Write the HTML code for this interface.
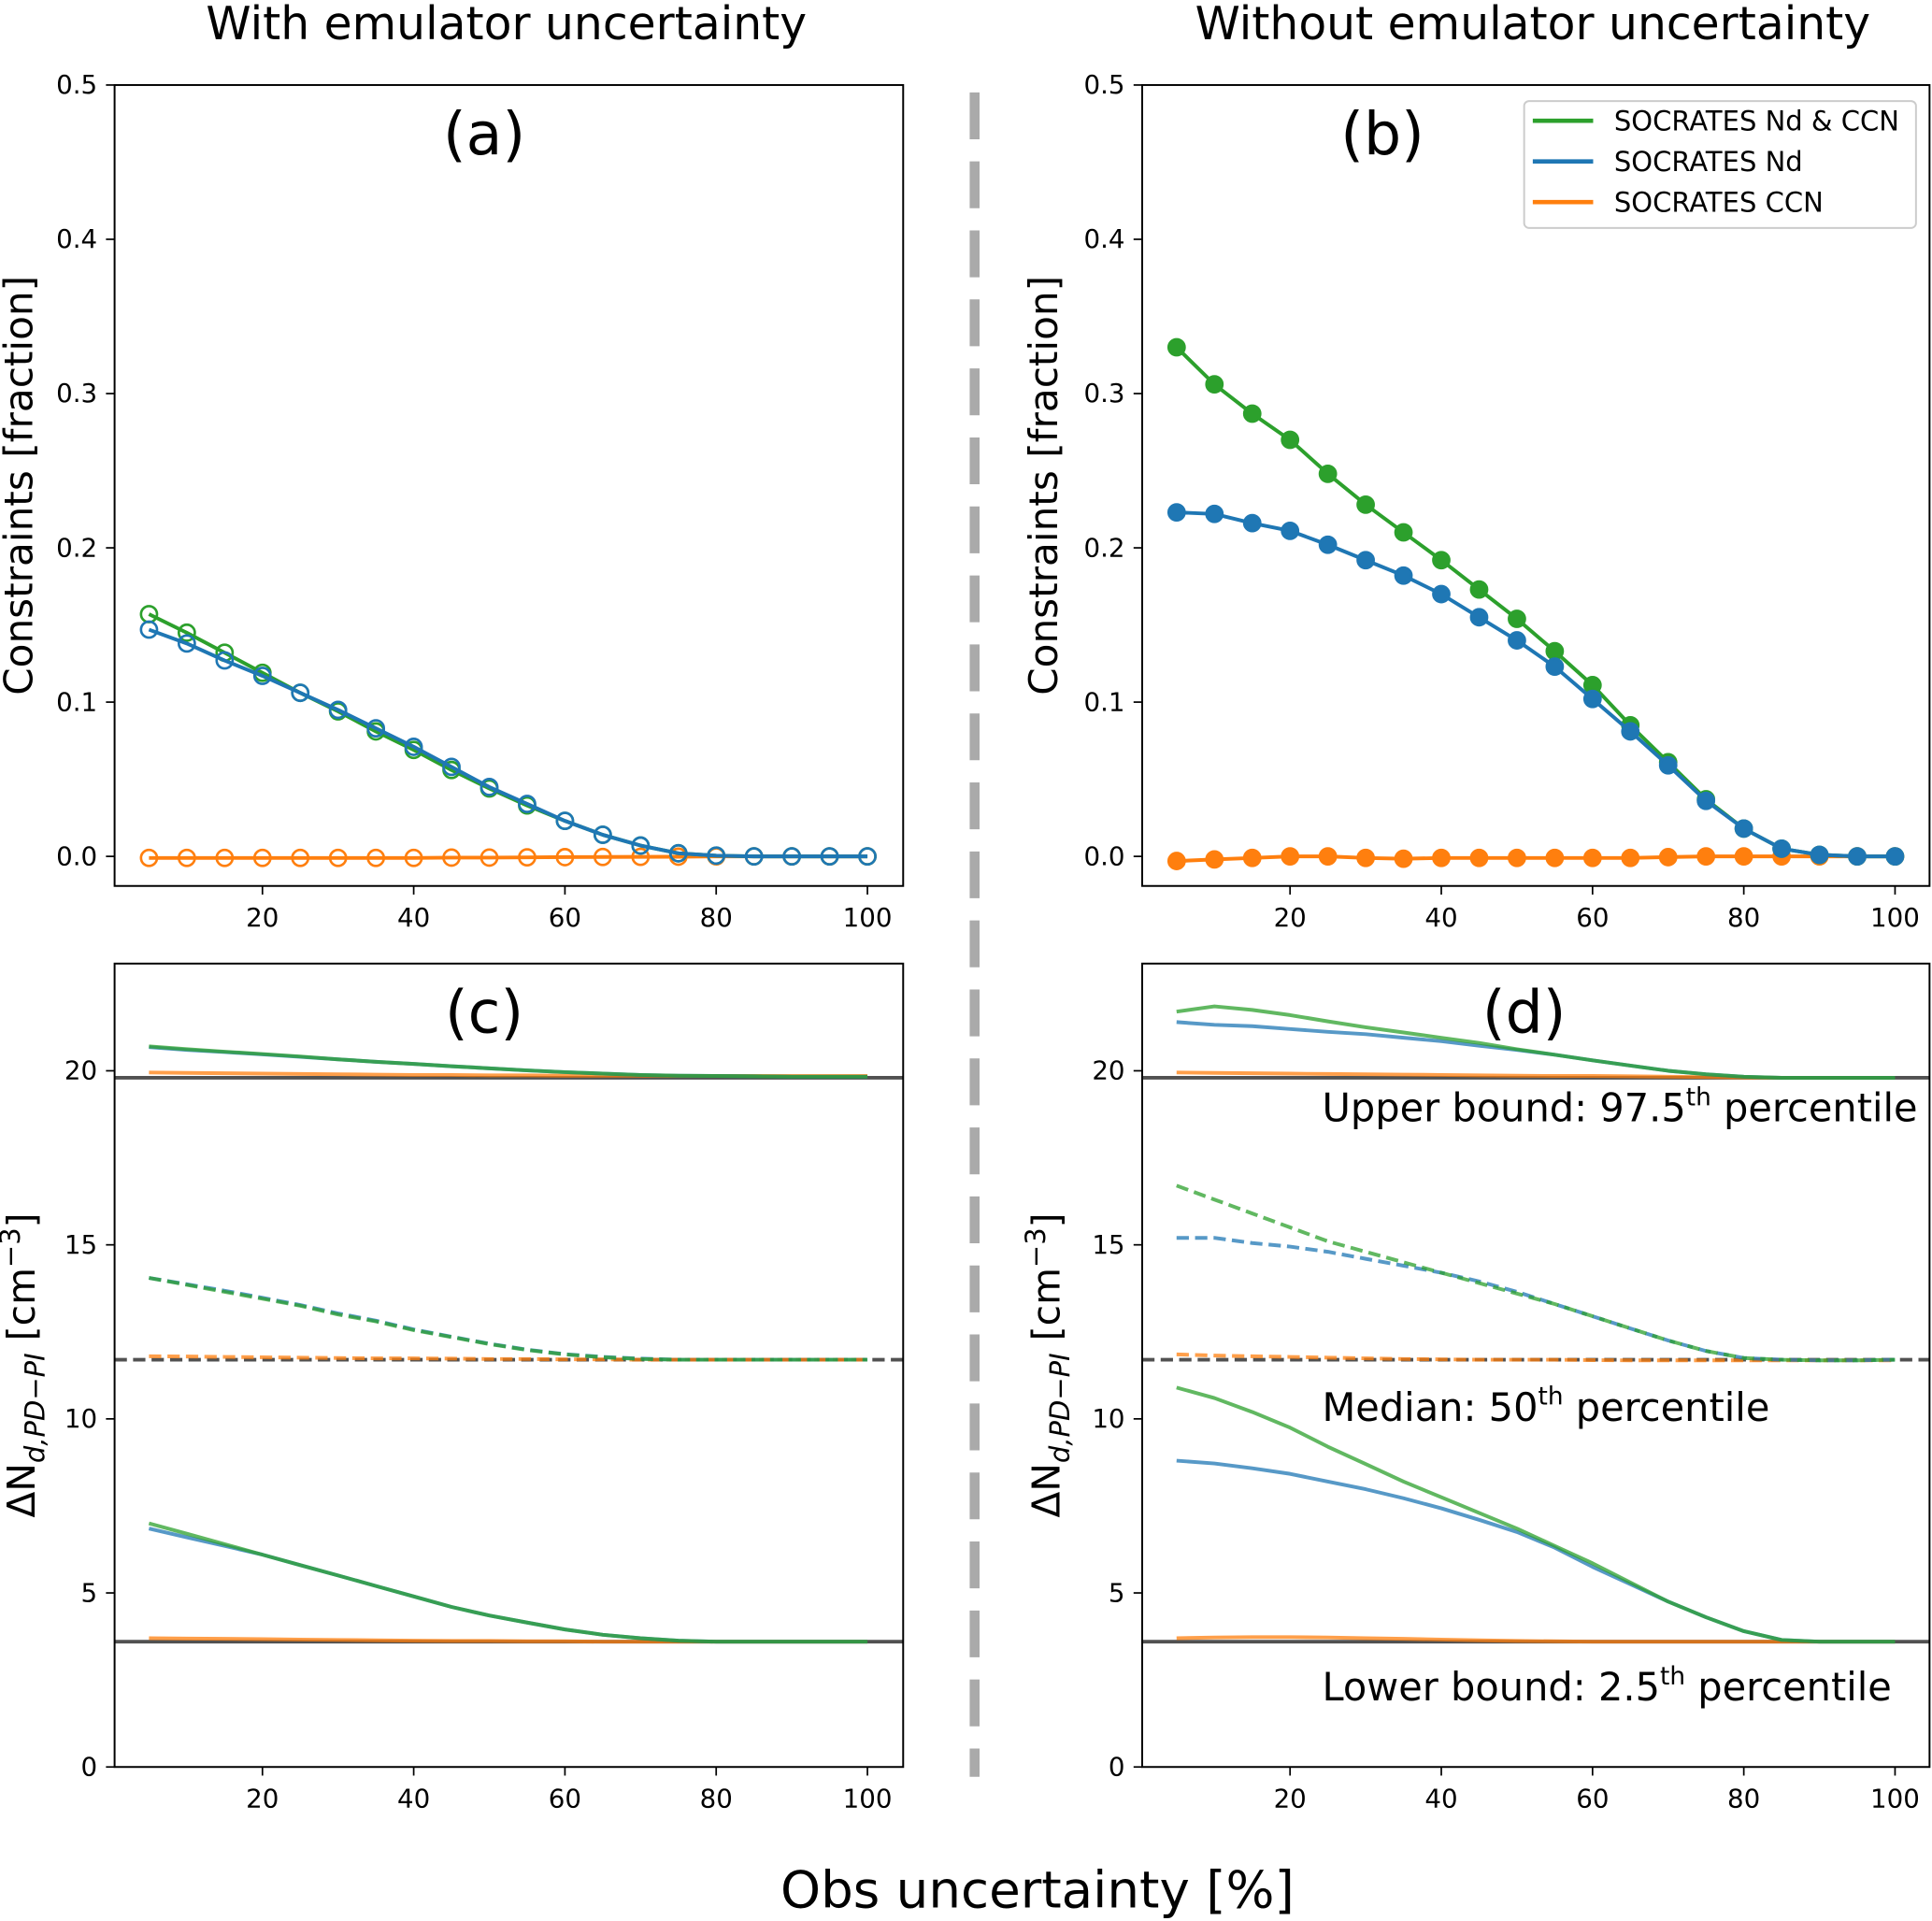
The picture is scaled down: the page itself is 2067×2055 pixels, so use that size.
<!DOCTYPE html>
<html><head><meta charset="utf-8"><style>
html,body{margin:0;padding:0;background:#fff}
svg{display:block}
text{font-family:"DejaVu Sans","Liberation Sans",sans-serif;fill:#000}
</style></head><body>
<svg id="fig" width="2067" height="2055" viewBox="0 0 1568 1559" preserveAspectRatio="none" xmlns="http://www.w3.org/2000/svg">
<text x="411" y="32" font-size="37" text-anchor="middle">With emulator uncertainty</text>
<text x="1244" y="32" font-size="37" text-anchor="middle">Without emulator uncertainty</text>
<line x1="791" y1="75" x2="791" y2="1442" stroke="#aaa" stroke-width="8" stroke-dasharray="38,18"/>
<text x="842" y="1548" font-size="41.5" text-anchor="middle">Obs uncertainty [%]</text>
<g id="plots"></g>
</svg>
<script>
const xs=[5,10,15,20,25,30,35,40,45,50,55,60,65,70,75,80,85,90,95,100];
const aGreen=[0.157,0.145,0.132,0.119,0.106,0.094,0.081,0.069,0.056,0.044,0.033,0.023,0.014,0.007,0.002,0.0005,0,0,0,0];
const aBlue=[0.147,0.138,0.127,0.117,0.106,0.095,0.083,0.071,0.058,0.045,0.034,0.023,0.014,0.007,0.002,0.0005,0,0,0,0];
const aOrange=[-0.001,-0.001,-0.001,-0.001,-0.001,-0.001,-0.001,-0.001,-0.0008,-0.0008,-0.0006,-0.0005,-0.0004,-0.0003,-0.0002,0,0,0,0,0];
const bGreen=[0.330,0.306,0.287,0.270,0.248,0.228,0.210,0.192,0.173,0.154,0.133,0.111,0.085,0.061,0.037,0.018,0.005,0.001,0,0];
const bBlue=[0.223,0.222,0.216,0.211,0.202,0.192,0.182,0.170,0.155,0.140,0.123,0.102,0.081,0.059,0.036,0.018,0.005,0.001,0,0];
const bOrange=[-0.003,-0.002,-0.001,0,0,-0.001,-0.0015,-0.001,-0.001,-0.001,-0.001,-0.001,-0.001,-0.0005,0,0,0,0,0,0];
const cGreenUp=[20.7,20.62,20.55,20.48,20.41,20.33,20.26,20.2,20.13,20.07,20.01,19.96,19.92,19.88,19.86,19.85,19.84,19.83,19.83,19.83];
const cBlueUp=[20.68,20.6,20.54,20.47,20.4,20.33,20.26,20.2,20.13,20.07,20.01,19.96,19.92,19.88,19.86,19.85,19.84,19.83,19.83,19.83];
const cOrangeUp=[19.95,19.94,19.93,19.92,19.91,19.9,19.89,19.88,19.88,19.87,19.87,19.86,19.86,19.86,19.85,19.85,19.85,19.85,19.85,19.85];
const cGreenMed=[14.05,13.85,13.65,13.45,13.25,13.0,12.8,12.55,12.35,12.15,11.98,11.85,11.77,11.72,11.7,11.7,11.7,11.7,11.7,11.7];
const cBlueMed=[14.05,13.87,13.68,13.48,13.27,13.03,12.82,12.57,12.36,12.16,11.99,11.86,11.78,11.73,11.7,11.7,11.7,11.7,11.7,11.7];
const cOrangeMed=[11.8,11.79,11.78,11.77,11.76,11.75,11.74,11.74,11.73,11.72,11.72,11.71,11.71,11.7,11.7,11.7,11.7,11.7,11.7,11.7];
const cGreenLow=[7.0,6.7,6.4,6.1,5.8,5.5,5.2,4.9,4.6,4.35,4.15,3.95,3.8,3.7,3.63,3.6,3.6,3.6,3.6,3.6];
const cBlueLow=[6.85,6.6,6.35,6.1,5.8,5.5,5.2,4.9,4.6,4.35,4.15,3.95,3.8,3.7,3.63,3.6,3.6,3.6,3.6,3.6];
const cOrangeLow=[3.7,3.69,3.68,3.67,3.66,3.65,3.64,3.63,3.62,3.62,3.61,3.61,3.6,3.6,3.6,3.6,3.6,3.6,3.6,3.6];
const dGreenUp=[21.7,21.85,21.75,21.6,21.42,21.25,21.1,20.95,20.8,20.62,20.46,20.3,20.15,20.0,19.9,19.83,19.8,19.8,19.8,19.8];
const dBlueUp=[21.4,21.32,21.28,21.2,21.12,21.05,20.95,20.85,20.72,20.6,20.46,20.3,20.15,20.0,19.9,19.83,19.8,19.8,19.8,19.8];
const dOrangeUp=[19.95,19.94,19.93,19.92,19.91,19.9,19.89,19.88,19.87,19.86,19.85,19.85,19.84,19.83,19.82,19.81,19.8,19.8,19.8,19.8];
const dGreenMed=[16.7,16.3,15.9,15.5,15.1,14.8,14.5,14.2,13.9,13.6,13.3,12.95,12.6,12.25,11.95,11.75,11.7,11.68,11.68,11.7];
const dBlueMed=[15.2,15.2,15.05,14.95,14.8,14.6,14.4,14.2,13.95,13.65,13.3,12.95,12.6,12.25,11.95,11.75,11.7,11.68,11.68,11.7];
const dOrangeMed=[11.85,11.82,11.8,11.78,11.76,11.74,11.72,11.71,11.7,11.7,11.7,11.69,11.68,11.68,11.68,11.68,11.68,11.68,11.68,11.68];
const dGreenLow=[10.9,10.6,10.2,9.75,9.2,8.7,8.2,7.75,7.3,6.85,6.35,5.85,5.3,4.75,4.3,3.9,3.65,3.6,3.6,3.6];
const dBlueLow=[8.8,8.72,8.58,8.42,8.2,7.98,7.72,7.43,7.1,6.75,6.3,5.75,5.25,4.75,4.3,3.9,3.65,3.6,3.6,3.6];
const dOrangeLow=[3.7,3.72,3.73,3.73,3.72,3.7,3.68,3.66,3.64,3.62,3.61,3.6,3.6,3.6,3.6,3.6,3.6,3.6,3.6,3.6];
const refLines=[19.8,11.7,3.6];
const xTicks=[20,40,60,80,100];
const yTicksTop=[0.0,0.1,0.2,0.3,0.4,0.5];
const yTicksBot=[0,5,10,15,20];

const NS="http://www.w3.org/2000/svg";
const G=document.getElementById('plots');
const C={g:'#2ca02c',b:'#1f77b4',o:'#ff7f0e'};
function el(t,a,p){const e=document.createElementNS(NS,t);for(const k in a)e.setAttribute(k,a[k]);(p||G).appendChild(e);return e;}

function panel(name,L,T,R,B,ymin,ymax,yt,fmt){
  const sx=v=>(L+120)+(v-20)*6.1375;
  const y=v=>B-(v-ymin)/(ymax-ymin)*(B-T);
  const g=el('g',{});
  
  
  for(const t of xTicks){
    const l=el('line',{x1:sx(t),x2:sx(t),y1:B,y2:B+7,stroke:'#000','stroke-width':1.3},g);
    
    const tx=el('text',{x:sx(t),y:B+33,'font-size':21,'text-anchor':'middle'},g);tx.textContent=t;
    
  }
  for(const t of yt){
    const l=el('line',{x1:L-7,x2:L,y1:y(t),y2:y(t),stroke:'#000','stroke-width':1.3},g);
    
    const tx=el('text',{x:L-14,y:y(t)+7,'font-size':21,'text-anchor':'end'},g);tx.textContent=fmt(t);
    
  }
  return {g,sx,y,L,T,R,B};
}
function frame(p){
  const r=el('rect',{x:p.L,y:p.T,width:p.R-p.L,height:p.B-p.T,fill:'none',stroke:'#000','stroke-width':1.5},p.g);
  
}
function line(p,vals,color,name,opts){
  opts=opts||{};
  const pts=xs.map((v,i)=>p.sx(v).toFixed(1)+','+p.y(vals[i]).toFixed(1)).join(' ');
  const l=el('polyline',{points:pts,fill:'none',stroke:color,'stroke-width':opts.w||3,'stroke-opacity':opts.op||1,'stroke-dasharray':opts.dash||'none','stroke-linejoin':'round'},p.g);
  
  if(opts.marker){
    xs.forEach((v,i)=>{
      const c=el('circle',{cx:p.sx(v),cy:p.y(vals[i]),r:6.5,fill:opts.marker==='filled'?color:'none',stroke:color,'stroke-width':2},p.g);
      
    });
  }
}
function refs(p){
  refLines.forEach((v,i)=>{
    const l=el('line',{x1:p.L,x2:p.R,y1:p.y(v),y2:p.y(v),stroke:'#333','stroke-width':3,'stroke-opacity':0.85,'stroke-dasharray':i===1?'10,5':'none'},p.g);
    
    
  });
}
function label(p,txt,cx,name){
  const t=el('text',{x:cx,y:p.T+56,'font-size':48,'text-anchor':'middle'},p.g);t.textContent=txt;
  
}
function ylabTop(p,x){
  const t=el('text',{x:0,y:0,'font-size':32,'text-anchor':'middle',transform:`translate(${x},${(p.T+p.B)/2}) rotate(-90)`},p.g);
  t.textContent='Constraints [fraction]';
  
}
function ylabBot(p,x){
  const t=el('text',{x:0,y:0,'font-size':31,'text-anchor':'middle',transform:`translate(${x},${(p.T+p.B)/2}) rotate(-90)`},p.g);
  
  t.innerHTML='ΔN<tspan font-size="22" font-style="italic" dy="8">d,PD−PI</tspan><tspan dy="-8"> [cm</tspan><tspan font-size="22" dy="-12">−3</tspan><tspan dy="12">]</tspan>';
}
const f1=v=>v.toFixed(1), f0=v=>String(v);
function topTicks(p){for(const t of yTicksTop){const l=el('line',{x1:p.L-7,x2:p.L,y1:p.y(t),y2:p.y(t),stroke:'#000','stroke-width':1.3},p.g);const tx=el('text',{x:p.L-14,y:p.y(t)+7,'font-size':21,'text-anchor':'end'},p.g);tx.textContent=f1(t);}}
// (a)
let pa=panel('panel-a',93,69,733,719,0,0.5,[],f1);
pa.y=v=>695-(v/0.5)*626;
topTicks(pa);
line(pa,aOrange,C.o,'series-socrates-ccn',{marker:'open'});
line(pa,aGreen,C.g,'series-socrates-nd-ccn',{marker:'open'});
line(pa,aBlue,C.b,'series-socrates-nd',{marker:'open'});
label(pa,'(a)',393,'panel-label-a');ylabTop(pa,26);frame(pa);
// (b)
let pb=panel('panel-b',927,69,1566,719,0,0.5,[],f1);
pb.y=v=>695-(v/0.5)*626;
topTicks(pb);
line(pb,bOrange,C.o,'series-socrates-ccn',{marker:'filled'});
line(pb,bGreen,C.g,'series-socrates-nd-ccn',{marker:'filled'});
line(pb,bBlue,C.b,'series-socrates-nd',{marker:'filled'});
label(pb,'(b)',1122,'panel-label-b');ylabTop(pb,858);frame(pb);
// legend
const lg=el('g',{});

el('rect',{x:1237,y:82,width:318,height:103,rx:4,fill:'#fff',stroke:'#ccc','stroke-width':1.5},lg);
[['SOCRATES Nd & CCN',C.g],['SOCRATES Nd',C.b],['SOCRATES CCN',C.o]].forEach((e,i)=>{
  const yy=98+i*33;
  const l=el('line',{x1:1244,x2:1293,y1:yy,y2:yy,stroke:e[1],'stroke-width':3.5},lg);
  
  const t=el('text',{x:1310,y:yy+8,'font-size':22},lg);t.textContent=e[0];
  
});
// (c)
let pc=panel('panel-c',93,782,733,1434,0,23.08,yTicksBot,f0);
refs(pc);
line(pc,cOrangeUp,C.o,'series-ccn-upper',{op:0.75});
line(pc,cBlueUp,C.b,'series-nd-upper',{op:0.75});
line(pc,cGreenUp,C.g,'series-nd-ccn-upper',{op:0.75});
line(pc,cOrangeMed,C.o,'series-ccn-median',{op:0.75,dash:'10,5'});
line(pc,cBlueMed,C.b,'series-nd-median',{op:0.75,dash:'10,5'});
line(pc,cGreenMed,C.g,'series-nd-ccn-median',{op:0.75,dash:'10,5'});
line(pc,cOrangeLow,C.o,'series-ccn-lower',{op:0.75});
line(pc,cBlueLow,C.b,'series-nd-lower',{op:0.75});
line(pc,cGreenLow,C.g,'series-nd-ccn-lower',{op:0.75});
label(pc,'(c)',393,'panel-label-c');ylabBot(pc,28);frame(pc);
// (d)
let pd=panel('panel-d',927,782,1566,1434,0,23.08,yTicksBot,f0);
refs(pd);
line(pd,dOrangeUp,C.o,'series-ccn-upper',{op:0.75});
line(pd,dBlueUp,C.b,'series-nd-upper',{op:0.75});
line(pd,dGreenUp,C.g,'series-nd-ccn-upper',{op:0.75});
line(pd,dOrangeMed,C.o,'series-ccn-median',{op:0.75,dash:'10,5'});
line(pd,dBlueMed,C.b,'series-nd-median',{op:0.75,dash:'10,5'});
line(pd,dGreenMed,C.g,'series-nd-ccn-median',{op:0.75,dash:'10,5'});
line(pd,dOrangeLow,C.o,'series-ccn-lower',{op:0.75});
line(pd,dBlueLow,C.b,'series-nd-lower',{op:0.75});
line(pd,dGreenLow,C.g,'series-nd-ccn-lower',{op:0.75});
label(pd,'(d)',1237,'panel-label-d');ylabBot(pd,860);frame(pd);
[['Upper bound: 97.5','th',' percentile',910,'upper-bound-annotation'],['Median: 50','th',' percentile',1153,'median-annotation'],['Lower bound: 2.5','th',' percentile',1380,'lower-bound-annotation']].forEach(a=>{
  const t=el('text',{x:1073,y:a[3],'font-size':31.5},pd.g);
  
  t.innerHTML=a[0]+'<tspan font-size="20" dy="-13">'+a[1]+'</tspan><tspan dy="13">'+a[2]+'</tspan>';
});
</script>
</body></html>
